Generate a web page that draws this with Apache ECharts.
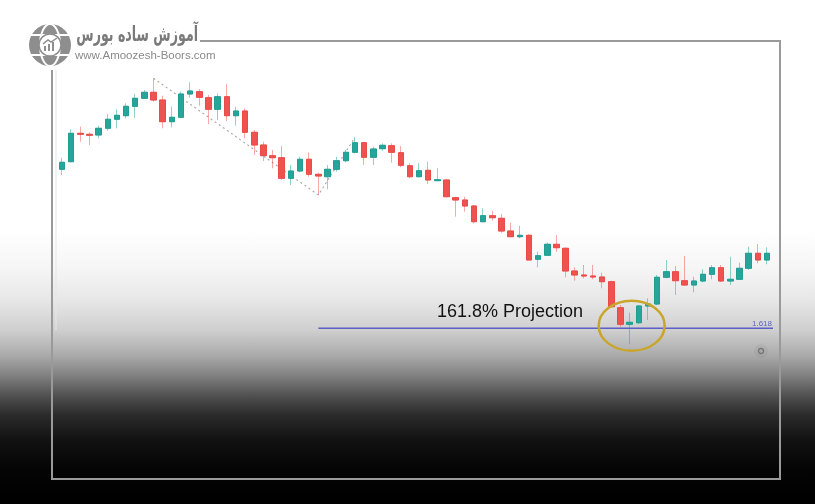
<!DOCTYPE html>
<html><head><meta charset="utf-8">
<script src="https://cdn.jsdelivr.net/npm/echarts@6/dist/echarts.min.js"></script>
<style>
html,body{margin:0;padding:0;width:815px;height:504px;overflow:hidden;}
body{background:linear-gradient(to bottom,#ffffff 0px,#ffffff 230px,#f5f5f5 270px,#e7e7e7 300px,#cfcfcf 330px,#ababab 355px,#828282 375px,#525252 395px,#2b2b2b 415px,#121212 440px,#040404 470px,#000000 504px);}
#c{width:815px;height:504px;}
</style></head><body><div id="c"></div>
<script>
// Candle values (price units)
const opens = [230.7,238.3,266.7,265.7,265,271.7,280.7,284.3,293.7,301.7,307.7,300,278.3,282.7,306,308.3,302.3,290.7,303.3,284.3,289,267.7,255,244.3,242.3,221.7,229,240.7,225.7,223.3,230.7,239.3,247.7,257.3,242.7,251.3,254.3,247.3,234.3,223.3,229.7,219.3,220,202.3,200,194,178.3,184.3,181.7,169,163.3,164.7,140.7,144.7,155.7,151.7,129,125,124,123,118.3,92.3,75.7,77.3,94,96,122.7,128.3,119.3,115,119,125.7,132.3,119,120.7,131.7,146.7,140];
const closes = [237.7,266.7,265.7,264.7,271.7,280.7,284.7,293.7,301.7,307.7,300,278.3,282.7,306,309,302.7,290.7,303.3,284.3,289,267.7,255,244.3,242.3,221.7,229,240.7,225.7,224,230.7,239.3,247.7,257.3,242.7,251,254.7,247.7,234.7,223.3,229.3,220,220.3,203.3,200,194,178.3,184.3,182.3,169,163.3,164.7,140,144.3,155.7,152.3,129,125,124,123,118.3,93.3,75.7,77.7,94,96,122.7,128.3,119.3,115,119,125.7,132.3,119,120.7,131.7,146.7,140,146.7];
const lows = [225,237.7,258.3,255,261.7,269.3,271.7,281.7,282.3,301,298.3,271.7,272.7,282.3,302.3,294.3,276,280,279,274.3,261.7,245,239,231.7,220,215,227.7,223.3,205,210.7,228.3,237.7,246.7,235,235,249.3,237.3,232.7,221.7,222.7,216,219,202.7,183.3,188.3,176.7,177.7,179.3,167.3,163.3,161.7,140,132.7,144.3,148.3,122.7,119.3,121.7,120.7,111.7,92.7,73.3,55.7,75.7,80,95,121.7,105,114,107.7,117.7,120.7,118.3,115,120,130,136.7,135.7];
const highs = [242.3,270.7,273.3,267.7,274.3,286,290.7,296.7,306,310,321.7,304.3,293.3,308.3,317.7,311,305,306.7,315.7,293.3,291.7,270,258.3,250,254,235,243.3,247.7,227.3,235,243.3,250,262.7,258.3,253.3,256.7,256.7,254,236.7,236.7,238.3,231.7,220.7,203.3,203.3,195,191.7,189.3,186,177.3,174.3,165.7,148.3,157.3,165,152.7,132.7,135,135,127.3,119.3,95,87.3,95,101.7,125,140,134,144,123.3,130.7,135,135,143.3,137.3,153.3,156,152.7];
const categories = opens.map((_, i) => String(i + 1));
// zigzag swing points: [candle index, price]
const zigIdx = [10, 28, 32];
const zigVal = [321.7, 205, 262.7];
const fibLevel = 71.7;
const fibLabel = '1.618';
const fibStartIdx = 28;
const circleIdx = 62;
const circleVal = 74.3;
const noteText = '161.8% Projection';

const chart = echarts.init(document.getElementById('c'), null, {renderer: 'canvas'});
const full = opens.map((o, i) => [o, closes[i], lows[i], highs[i]]);
const bodies = opens.map((o, i) => [o, closes[i], Math.min(o, closes[i]), Math.max(o, closes[i])]);
const zig = zigIdx.map((x, i) => [x, zigVal[i]]);

chart.setOption({
  backgroundColor: 'transparent',
  animation: false,
  grid: {left: 57.4, width: 714.2, top: 50, height: 300},
  xAxis: {type: 'category', data: categories, boundaryGap: true, show: false},
  yAxis: {type: 'value', min: 50, max: 350, show: false},
  series: [
    {type: 'line', data: zig, symbol: 'none', z: 1, silent: true,
     lineStyle: {type: [2, 3], color: '#aaaaaa', width: 1.2}},
    {type: 'candlestick', data: full, barWidth: 6, z: 2, silent: true,
     itemStyle: {color: 'rgba(0,0,0,0)', color0: 'rgba(0,0,0,0)',
       borderColor: 'rgba(38,166,154,0.5)', borderColor0: 'rgba(239,83,80,0.5)', borderWidth: 1}},
    {type: 'candlestick', data: bodies, barWidth: 6, z: 3,
     itemStyle: {color: '#26a69a', color0: '#ef5350', borderColor: '#229d91', borderColor0: '#e94b48', borderWidth: 1}}
  ]
});

const px = (i, v) => chart.convertToPixel({gridIndex: 0}, [i, v]);
const fs = px(fibStartIdx, fibLevel);
const cc = px(circleIdx, circleVal);
const gx = 50, gy = 45;
chart.setOption({
  graphic: [
    // frame
    {type: 'polyline', shape: {points: [[200, 41], [780, 41], [780, 479], [52, 479], [52, 70]]},
     style: {stroke: '#9a9a9a', lineWidth: 2, fill: null}, z: 10},
    {type: 'line', shape: {x1: 56, y1: 70, x2: 56, y2: 330}, style: {stroke: '#e6e6e6', lineWidth: 1}, z: 10},
    // logo globe
    {type: 'circle', shape: {cx: gx, cy: gy, r: 21}, style: {fill: '#8e8e8e'}, z: 10},
    {type: 'ellipse', shape: {cx: gx, cy: gy, rx: 10, ry: 21}, style: {stroke: '#fff', lineWidth: 2, fill: null}, z: 11},
    {type: 'line', shape: {x1: gx - 20, y1: gy - 10, x2: gx + 20, y2: gy - 10}, style: {stroke: '#fff', lineWidth: 2}, z: 11},
    {type: 'line', shape: {x1: gx - 20, y1: gy + 10, x2: gx + 20, y2: gy + 10}, style: {stroke: '#fff', lineWidth: 2}, z: 11},
    {type: 'circle', shape: {cx: gx, cy: gy, r: 11}, style: {fill: '#fff', stroke: '#8e8e8e', lineWidth: 1.5}, z: 12},
    {type: 'rect', shape: {x: gx - 6, y: gy + 1, width: 2, height: 5}, style: {fill: '#8e8e8e'}, z: 13},
    {type: 'rect', shape: {x: gx - 2, y: gy - 1, width: 2, height: 7}, style: {fill: '#8e8e8e'}, z: 13},
    {type: 'rect', shape: {x: gx + 2, y: gy - 3, width: 2, height: 9}, style: {fill: '#8e8e8e'}, z: 13},
    {type: 'polyline', shape: {points: [[gx - 7, gy - 1], [gx - 2, gy - 5], [gx + 1, gy - 3], [gx + 7, gy - 7]]},
     style: {stroke: '#8e8e8e', lineWidth: 1.5, fill: null}, z: 13},
    {type: 'text', x: 198, y: 46, scaleX: 0.6, z: 10,
     style: {text: 'آموزش ساده بورس', font: 'bold 21px "DejaVu Sans"', fill: '#7a7a7a', align: 'right', verticalAlign: 'bottom'}},
    {type: 'text', x: 75, y: 56, z: 10,
     style: {text: 'www.Amoozesh-Boors.com', font: '11.5px "Liberation Sans"', fill: '#8a8a8a', align: 'left', verticalAlign: 'middle'}},
    // fib line
    {type: 'line', shape: {x1: fs[0], y1: fs[1], x2: 773, y2: fs[1]}, style: {stroke: '#5b5fc7', lineWidth: 1.5}, z: 20},
    {type: 'text', x: 772, y: fs[1] - 1, z: 20,
     style: {text: fibLabel, font: '8px "Liberation Sans"', fill: '#5b5fc7', align: 'right', verticalAlign: 'bottom'}},
    {type: 'text', x: 437, y: 312, z: 20,
     style: {text: noteText, font: '18px "Liberation Sans"', fill: '#111', align: 'left', verticalAlign: 'middle'}},
    {type: 'ellipse', shape: {cx: cc[0] + 2, cy: cc[1], rx: 33, ry: 25}, style: {stroke: '#c9a52a', lineWidth: 2.5, fill: null}, z: 21},
    // small settings icon
    {type: 'circle', shape: {cx: 761, cy: 351, r: 7}, style: {fill: 'rgba(0,0,0,0.04)'}, z: 10},
    {type: 'circle', shape: {cx: 761, cy: 351, r: 2.5}, style: {stroke: '#777', lineWidth: 1.3, fill: null}, z: 11}
  ]
});
</script></body></html>
